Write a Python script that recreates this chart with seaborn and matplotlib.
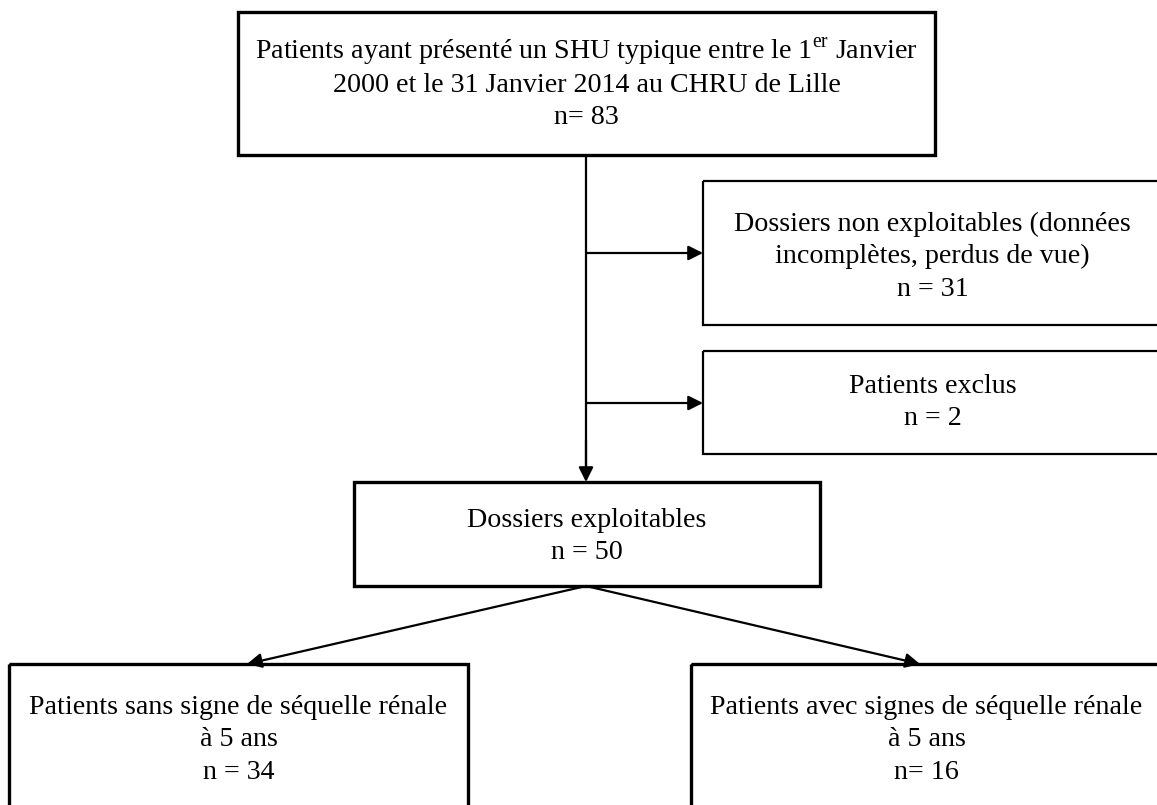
import numpy as np
import pandas as pd
import matplotlib.pyplot as plt
import seaborn as sns
from matplotlib.patches import Rectangle

# Flow chart content
box_labels = [
    ["Patients ayant présenté un SHU typique entre le 1$^{\\mathrm{er}}$ Janvier",
     "2000 et le 31 Janvier 2014 au CHRU de Lille"],
    ["Dossiers non exploitables (données", "incomplètes, perdus de vue)"],
    ["Patients exclus"],
    ["Dossiers exploitables"],
    ["Patients sans signe de séquelle rénale", "à 5 ans"],
    ["Patients avec signes de séquelle rénale", "à 5 ans"],
]
box_counts = ["n= 83", "n = 31", "n = 2", "n = 50", "n = 34", "n= 16"]

# layout in pixels (x0, y0, x1, y1), y going down
box_pos = [
    (238, 12, 935, 155),
    (703, 181, 1162, 325),
    (703, 351, 1162, 454),
    (354, 482, 820, 586),
    (9, 664, 468, 840),
    (691, 664, 1162, 840),
]
box_lw = [2.4, 1.6, 1.6, 2.4, 2.4, 2.4]
text_y = [84, 255, 401, 535, 738, 738]
line_gap = 32.5

sns.set_theme(style="white")
plt.rcParams["font.family"] = ["Liberation Serif", "DejaVu Serif"]
plt.rcParams["mathtext.fontset"] = "custom"
plt.rcParams["mathtext.rm"] = "Liberation Serif"

fig = plt.figure(figsize=(11.57, 8.05), dpi=100)
ax = fig.add_axes([0, 0, 1, 1])
ax.set_xlim(0, 1157)
ax.set_ylim(805, 0)
ax.axis("off")

for (x0, y0, x1, y1), lw, lab, n, ty in zip(box_pos, box_lw, box_labels, box_counts, text_y):
    ax.add_patch(Rectangle((x0, y0), x1 - x0, y1 - y0, fill=False,
                           edgecolor="black", lw=lw))
    cx = (x0 + x1) / 2
    lines = lab + [n]
    k = len(lines)
    for i, s in enumerate(lines):
        by = ty + (i - (k - 1) / 2) * line_gap + 8
        ax.text(cx, by, s, ha="center", va="baseline",
                fontsize=20.2, color="black")

# main trunk
trunk = pd.DataFrame({"x": [586, 586], "y": [155, 470]})
sns.lineplot(data=trunk, x="x", y="y", color="black", lw=1.6, ax=ax,
             estimator=None, sort=False)

arrow = dict(arrowstyle="-|>", mutation_scale=22, lw=1.6, color="black",
             shrinkA=0, shrinkB=0)
ax.annotate("", xy=(586, 482), xytext=(586, 440), arrowprops=arrow)
ax.annotate("", xy=(703, 253), xytext=(586, 253), arrowprops=arrow)
ax.annotate("", xy=(703, 403), xytext=(586, 403), arrowprops=arrow)
ax.annotate("", xy=(247, 664), xytext=(586, 586), arrowprops=arrow)
ax.annotate("", xy=(920, 664), xytext=(586, 586), arrowprops=arrow)

fig.savefig("out.png", dpi=100, facecolor="white")
